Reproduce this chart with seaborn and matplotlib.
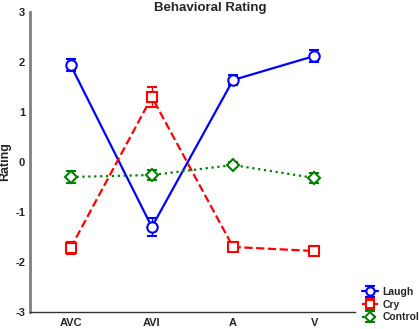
import numpy as np
import pandas as pd
import matplotlib
matplotlib.use("Agg")
import matplotlib.pyplot as plt
import seaborn as sns

conditions = ["AVC", "AVI", "A", "V"]
laugh = [1.94, -1.30, 1.64, 2.12]
laugh_err = [0.12, 0.18, 0.10, 0.12]
cry = [-1.72, 1.30, -1.70, -1.78]
cry_err = [0.12, 0.20, 0.08, 0.09]
control = [-0.30, -0.26, -0.06, -0.32]
control_err = [0.12, 0.10, 0.05, 0.10]

sns.set_style("white")
plt.rcParams['font.family'] = ['Liberation Sans', 'DejaVu Sans']

fig = plt.figure(figsize=(4.19, 3.29), dpi=100)
ax = fig.add_axes([0.0716, 0.0517, 0.7754, 0.9118])

series = [
    ("Laugh", laugh, laugh_err, "#0000ff", "o", "-"),
    ("Cry", cry, cry_err, "#ff0000", "s", "--"),
    ("Control", control, control_err, "#008000", "D", ":"),
]

df = pd.concat([
    pd.DataFrame({"x": np.arange(len(conditions)), "y": v, "group": name})
    for name, v, e, c, m, ls in series
])

palette = {name: c for name, v, e, c, m, ls in series}
sns.lineplot(data=df, x="x", y="y", hue="group", palette=palette, ax=ax,
             legend=False, linewidth=1.6, sort=False)
for line, (name, v, e, c, m, ls) in zip(ax.get_lines(), series):
    line.set_linestyle(ls)

for name, v, e, c, m, ls in series:
    h = ax.errorbar(np.arange(len(conditions)), v, yerr=e, fmt=m, color=c,
                    markersize=7.5 if m != "D" else 6, markerfacecolor="white",
                    markeredgewidth=1.5, capsize=3.6, elinewidth=1.0, capthick=1.0,
                    linestyle="none", zorder=3)

ax.set_xlim(-0.5, 3.5)
ax.set_ylim(-3, 3)
ax.set_xticks(np.arange(len(conditions)))
ax.set_xticklabels(conditions, fontsize=8, fontweight="bold")
ax.set_yticks([-3, -2, -1, 0, 1, 2, 3])
ax.set_yticklabels(["-3", "-2", "-1", "0", "1", "2", "3"], fontsize=8, fontweight="bold")
ax.tick_params(axis="x", length=0, pad=4)
ax.tick_params(axis="y", length=0, pad=3.5)
ax.set_xlabel("")
ax.set_ylabel("Rating", fontsize=9, fontweight="bold", labelpad=3)
fig.text(0.502, 1 - 8 / 329, "Behavioral Rating", ha="center", va="center",
         fontsize=9.5, fontweight="bold")

for s in ["top", "right"]:
    ax.spines[s].set_visible(False)
ax.spines["left"].set_color("#808080")
ax.spines["left"].set_linewidth(2)
ax.spines["bottom"].set_color("#333333")
ax.spines["bottom"].set_linewidth(1)

# legend handles (errorbar style, drawn off-axis with NaN data)
leg_handles = []
for name, v, e, c, m, ls in series:
    h = ax.errorbar([np.nan], [np.nan], yerr=[0.1], fmt=m, color=c,
                    markersize=6 if m != "D" else 5, markerfacecolor="white",
                    markeredgewidth=1.5, capsize=3.6, elinewidth=1.0, capthick=1.0,
                    linestyle=ls, linewidth=1.6)
    leg_handles.append(h)
fig.legend(leg_handles, [s[0] for s in series], loc="lower left",
           bbox_to_anchor=(0.858, 0.014), frameon=False,
           prop={"size": 7.5, "weight": "bold"}, handlelength=1.6,
           handletextpad=0.4, labelspacing=0.25, borderpad=0.2,
           borderaxespad=0.0)

fig.savefig("out.png", dpi=100)
